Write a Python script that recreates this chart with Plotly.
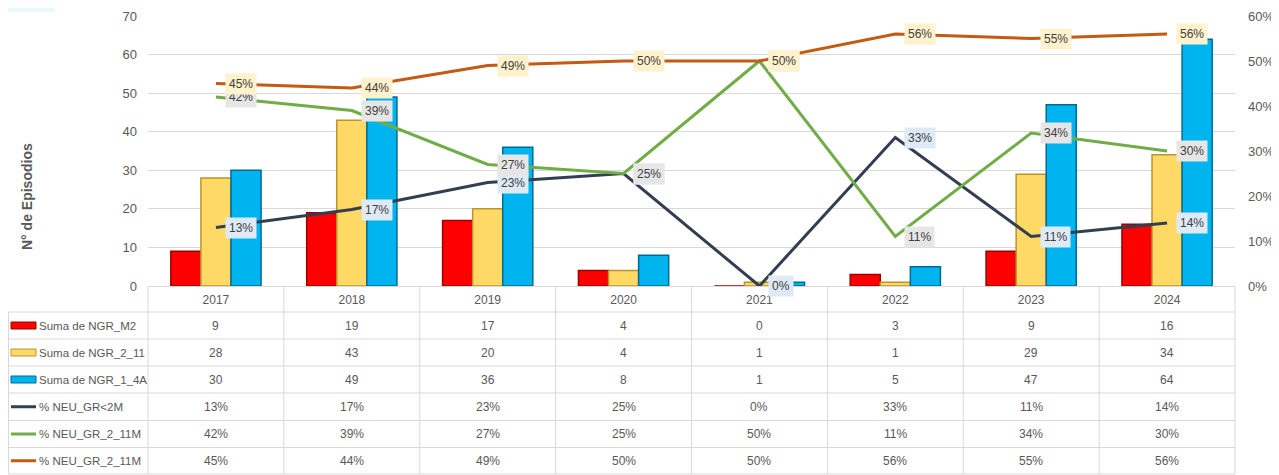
import plotly.graph_objects as go

# ---- data ----
years = ["2017", "2018", "2019", "2020", "2021", "2022", "2023", "2024"]
ngr_m2 = [9, 19, 17, 4, 0, 3, 9, 16]
ngr_2_11 = [28, 43, 20, 4, 1, 1, 29, 34]
ngr_1_4a = [30, 49, 36, 8, 1, 5, 47, 64]
pct_neu_lt2m = [0.13, 0.17, 0.23, 0.25, 0.00, 0.33, 0.11, 0.14]
pct_neu_2_11m = [0.42, 0.39, 0.27, 0.25, 0.50, 0.11, 0.34, 0.30]
pct_neu_2_11m_b = [0.45, 0.44, 0.49, 0.50, 0.50, 0.56, 0.55, 0.56]

bar_names = ["Suma de NGR_M2", "Suma de NGR_2_11", "Suma de NGR_1_4A"]
line_names = ["% NEU_GR<2M", "% NEU_GR_2_11M", "% NEU_GR_2_11M"]

bar_series = [ngr_m2, ngr_2_11, ngr_1_4a]
line_series = [pct_neu_lt2m, pct_neu_2_11m, pct_neu_2_11m_b]

bar_colors = ["#FF0000", "#FFD966", "#00B4F0"]
bar_edges = ["#9B0000", "#B8962E", "#006A95"]
line_colors = ["#333F50", "#70AD47", "#C55A11"]
label_bgs = ["#DEEAF6", "#E7E6E6", "#FFF2CC"]

FONT = "Liberation Sans Narrow, Arial Narrow, Liberation Sans, Arial, sans-serif"
TXT = "#595959"
GRID = "#D9D9D9"

# the page body adds an 8px margin; the figure is sized to fill the rest
OFF = 8
W, H = 1279 - OFF, 475 - OFF
L, R, T, B = 148 - OFF, 44, 16 - OFF, 189
PW = W - L - R
PH = H - T - B

xs = list(range(len(years)))


def px(X):
    # page pixel -> paper x
    return (X - 148) / PW


def py(Y):
    # page pixel -> paper y
    return (286 - Y) / PH


fig = go.Figure()

for name, vals, c, e in zip(bar_names, bar_series, bar_colors, bar_edges):
    fig.add_trace(go.Bar(
        x=xs, y=vals, name=name, yaxis="y",
        marker=dict(color=c, line=dict(color=e, width=1.5)),
        showlegend=False, hovertext=years, hoverinfo="text+y+name"))

for name, vals, c in zip(line_names, line_series, line_colors):
    fig.add_trace(go.Scatter(
        x=xs, y=vals, name=name, yaxis="y2", mode="lines",
        line=dict(color=c, width=3), showlegend=False))

annotations = []
for vals, bg in zip(line_series, label_bgs):
    for xi, v in zip(xs, vals):
        annotations.append(dict(
            x=xi, y=v, xref="x", yref="y2", text=f"{round(v*100):d}%",
            showarrow=False, xanchor="left", yanchor="middle", xshift=9,
            bgcolor=bg, borderpad=3,
            font=dict(family=FONT, size=12, color="#404040")))

annotations.append(dict(
    x=px(27), y=py(197), xref="paper", yref="paper", text="<b>N° de Episodios</b>",
    textangle=-90, showarrow=False, xanchor="center", yanchor="middle",
    font=dict(family="Liberation Sans, Arial, sans-serif", size=14, color=TXT)))

row_tops = [312, 339, 366, 393, 420.5, 447.5, 474]
table_rows = [ngr_m2, ngr_2_11, ngr_1_4a,
              [f"{round(v*100):d}%" for v in pct_neu_lt2m],
              [f"{round(v*100):d}%" for v in pct_neu_2_11m],
              [f"{round(v*100):d}%" for v in pct_neu_2_11m_b]]
row_names = bar_names + line_names

LEFT_EDGE = 8.5
shapes = []
for Y in row_tops:
    shapes.append(dict(type="line", xref="paper", yref="paper",
                       x0=px(LEFT_EDGE), x1=1.0, y0=py(Y), y1=py(Y),
                       line=dict(color=GRID, width=1)))
n = len(years)
for k in range(n + 1):
    shapes.append(dict(type="line", xref="paper", yref="paper",
                       x0=k / n, x1=k / n, y0=0, y1=py(474),
                       line=dict(color=GRID, width=1)))
shapes.append(dict(type="line", xref="paper", yref="paper",
                   x0=px(LEFT_EDGE), x1=px(LEFT_EDGE), y0=py(312), y1=py(474),
                   line=dict(color=GRID, width=1)))

for i, (rname, rvals) in enumerate(zip(row_names, table_rows)):
    yc = (row_tops[i] + row_tops[i + 1]) / 2
    for xi, v in zip(xs, rvals):
        annotations.append(dict(
            x=xi, y=py(yc), xref="x", yref="paper", text=str(v),
            showarrow=False, xanchor="center", yanchor="middle",
            font=dict(family=FONT, size=12, color=TXT)))
    annotations.append(dict(
        x=px(37), y=py(yc), xref="paper", yref="paper", text=rname,
        showarrow=False, xanchor="left", yanchor="middle",
        font=dict(family=FONT, size=11.5, color=TXT)))
    if i < 3:
        shapes.append(dict(type="rect", xref="paper", yref="paper",
                           x0=px(11), x1=px(36), y0=py(yc - 3.5), y1=py(yc + 3.5),
                           fillcolor=bar_colors[i],
                           line=dict(color=bar_edges[i], width=1)))
    else:
        shapes.append(dict(type="line", xref="paper", yref="paper",
                           x0=px(11), x1=px(36), y0=py(yc), y1=py(yc),
                           line=dict(color=line_colors[i - 3], width=3)))

shapes.append(dict(type="rect", xref="paper", yref="paper",
                   x0=px(8), x1=px(55), y0=py(8), y1=py(12),
                   fillcolor="#E8FAFC", line=dict(width=0), layer="below"))

fig.update_layout(
    width=W, height=H,
    margin=dict(l=L, r=R, t=T, b=B, autoexpand=False),
    paper_bgcolor="white", plot_bgcolor="white",
    barmode="group", bargap=0.336, bargroupgap=0,
    font=dict(family=FONT, size=12, color=TXT),
    xaxis=dict(range=[-0.5, len(years) - 0.5], tickvals=xs, ticktext=years,
               showline=True, linecolor=GRID, linewidth=1, automargin=False,
               showgrid=False, zeroline=False, ticks="", ticklabelstandoff=3,
               tickfont=dict(family=FONT, size=12, color=TXT)),
    yaxis=dict(range=[0, 70], dtick=10, showgrid=True, gridcolor=GRID, gridwidth=1,
               zeroline=False, showline=False, ticks="", ticklabelstandoff=10,
               automargin=False, tickfont=dict(family=FONT, size=13, color=TXT)),
    yaxis2=dict(range=[0, 0.6], dtick=0.1, tickformat=".0%", overlaying="y",
                side="right", showgrid=False, zeroline=False, showline=False,
                ticks="", ticklabelstandoff=12, automargin=False,
                tickfont=dict(family=FONT, size=13, color=TXT)),
    annotations=annotations,
    shapes=shapes,
)

fig.write_html("out.html")
